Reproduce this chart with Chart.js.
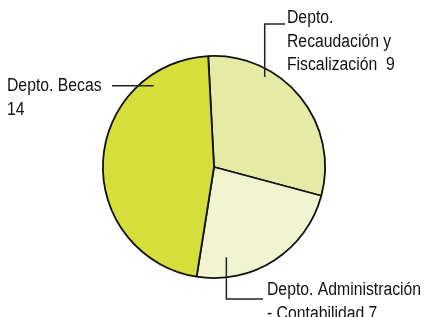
<!DOCTYPE html>
<html>
<head>
<meta charset="utf-8">
<script src="https://cdn.jsdelivr.net/npm/chart.js@4"></script>
<style>
  html, body { margin: 0; padding: 0; background: #fff; }
  #wrap { width: 424px; height: 317px; }
</style>
</head>
<body>
<div id="wrap"><canvas id="pieChart" width="424" height="317"></canvas></div>
<script>
const departments = ['Depto. Recaudación y Fiscalización', 'Depto. Administración - Contabilidad', 'Depto. Becas'];
const counts = [9, 7, 14];
const sliceColors = ['#e5eba5', '#f1f4d0', '#d5df3b'];

// label text lines per slice (value appended to the last line)
const labelLines = [
    ['Depto.', 'Recaudación y', 'Fiscalización  ' + counts[0]],
    ['Depto. Administración', '- Contabilidad ' + counts[1]],
    ['Depto. Becas', String(counts[2])]
];

// no narrow face installed, so squeeze Liberation Sans horizontally
const labelFont = '18px "Liberation Sans", Arial, sans-serif';
const squeeze = 0.875;

// where the leader leaves each slice (fraction through slice, fraction of radius) and how it runs to the text
const leaders = [
    { frac: 0.30, rad: 0.93, path: 'up', turnY: 24, endX: 285, textX: 287, textY: 23 },
    { frac: 0.80, rad: 0.82, path: 'down', turnY: 299, endX: 263, textX: 267, textY: 295 },
    { frac: 0.80, rad: 0.91, path: 'left', endX: 112, textX: 7, textY: 91 }
];

const leaderPlugin = {
    id: 'leaderLabels',
    afterDraw(chart) {
        const ctx = chart.ctx;
        const arcs = chart.getDatasetMeta(0).data;
        ctx.save();
        ctx.strokeStyle = '#222';
        ctx.lineWidth = 1.5;
        ctx.fillStyle = '#111';
        ctx.font = labelFont;
        ctx.textBaseline = 'alphabetic';
        arcs.forEach((arc, i) => {
            const L = leaders[i];
            const a = arc.startAngle + (arc.endAngle - arc.startAngle) * L.frac;
            const r = arc.outerRadius * L.rad;
            const x0 = arc.x + Math.cos(a) * r;
            const y0 = arc.y + Math.sin(a) * r;
            ctx.beginPath();
            ctx.moveTo(x0, y0);
            if (L.path === 'left') {
                ctx.lineTo(L.endX, y0);
            } else {
                ctx.lineTo(x0, L.turnY);
                ctx.lineTo(L.endX, L.turnY);
            }
            ctx.stroke();
            labelLines[i].forEach((line, j) => {
                ctx.save();
                ctx.translate(L.textX, L.textY + j * 23.5);
                ctx.scale(squeeze, 1);
                ctx.fillText(line, 0, 0);
                ctx.restore();
            });
        });
        ctx.restore();
    }
};

new Chart(document.getElementById('pieChart'), {
    type: 'pie',
    data: {
        labels: departments,
        datasets: [{
            data: counts,
            backgroundColor: sliceColors,
            borderColor: '#111',
            borderWidth: 1.8
        }]
    },
    options: {
        responsive: false,
        animation: false,
        rotation: -3,
        layout: { padding: { top: 55, bottom: 38, left: 102, right: 98 } },
        plugins: {
            legend: { display: false },
            tooltip: { enabled: false }
        }
    },
    plugins: [leaderPlugin]
});
</script>
</body>
</html>
